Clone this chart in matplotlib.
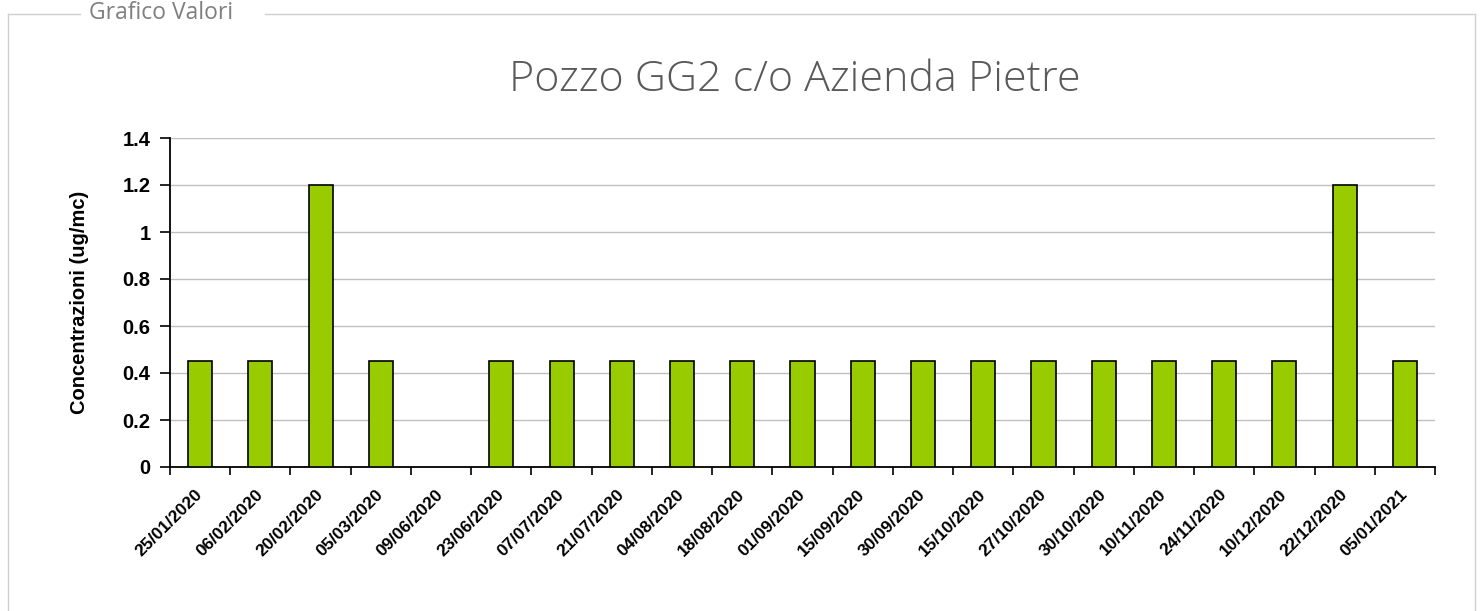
import matplotlib.pyplot as plt
import matplotlib.transforms as mtransforms
from matplotlib.lines import Line2D
import numpy as np

dates = ['25/01/2020', '06/02/2020', '20/02/2020', '05/03/2020', '09/06/2020',
         '23/06/2020', '07/07/2020', '21/07/2020', '04/08/2020', '18/08/2020',
         '01/09/2020', '15/09/2020', '30/09/2020', '15/10/2020', '27/10/2020',
         '30/10/2020', '10/11/2020', '24/11/2020', '10/12/2020', '22/12/2020',
         '05/01/2021']
values = [0.45, 0.45, 1.2, 0.45, np.nan,
          0.45, 0.45, 0.45, 0.45, 0.45,
          0.45, 0.45, 0.45, 0.45, 0.45,
          0.45, 0.45, 0.45, 0.45, 1.2,
          0.45]
y_ticks = [0, 0.2, 0.4, 0.6, 0.8, 1, 1.2, 1.4]
y_tick_labels = ['0', '0.2', '0.4', '0.6', '0.8', '1', '1.2', '1.4']

W, H = 1483, 611
fig = plt.figure(figsize=(W / 100, H / 100), dpi=100)

# fieldset-like frame
frame_col = '#cfcfcf'
fig.add_artist(Line2D([8 / W, 80 / W], [1 - 14 / H, 1 - 14 / H], color=frame_col, lw=1))
fig.add_artist(Line2D([265 / W, 1475 / W], [1 - 14 / H, 1 - 14 / H], color=frame_col, lw=1))
fig.add_artist(Line2D([8 / W, 8 / W], [1 - 14 / H, 0], color=frame_col, lw=1))
fig.add_artist(Line2D([1475 / W, 1475 / W], [1 - 14 / H, 0], color=frame_col, lw=1))
fig.text(89 / W, 1 - 13 / H, 'Grafico Valori', fontsize=16.5, color='#7f7f7f',
         family='Open Sans', va='center', ha='left')

fig.text(795 / W, 1 - 80 / H, 'Pozzo GG2 c/o Azienda Pietre', fontsize=31,
         color='#595959', family='Open Sans', fontweight='light',
         ha='center', va='center')

ax = fig.add_axes([170 / W, 1 - 467 / H, (1435 - 170) / W, (467 - 138) / H])
x = np.arange(len(dates))
ax.bar(x, values, width=0.4, color='#99cc00', edgecolor='black', linewidth=1.2, zorder=3)

ax.set_xlim(-0.5, len(dates) - 0.5)
ax.set_ylim(0, 1.4)
ax.set_yticks(y_ticks)
ax.set_yticklabels(y_tick_labels, fontweight='bold', fontsize=14.5, family='Liberation Sans')
ax.yaxis.grid(True, color='#c0c0c0', lw=1, zorder=0)
ax.set_axisbelow(True)

ax.set_xticks(np.arange(len(dates) + 1) - 0.5)
ax.set_xticklabels([])
ax.set_xticks(x, minor=True)
ax.set_xticklabels(dates, minor=True, rotation=45, ha='right', va='center',
                   rotation_mode='anchor', fontweight='bold', fontsize=12.5,
                   family='Liberation Sans')
shift = mtransforms.ScaledTranslation(-19 / 100, 0, fig.dpi_scale_trans)
for lab in ax.get_xticklabels(minor=True):
    lab.set_transform(lab.get_transform() + shift)
ax.tick_params(axis='x', which='minor', length=0, pad=18)
ax.tick_params(axis='x', which='major', length=6, width=1.2, direction='out')
ax.tick_params(axis='y', length=7, width=1.2, direction='out', pad=7)

for s in ['top', 'right']:
    ax.spines[s].set_visible(False)
for s in ['left', 'bottom']:
    ax.spines[s].set_linewidth(1.3)

ax.set_ylabel('Concentrazioni (ug/mc)', fontweight='bold', fontsize=14.5,
              family='Liberation Sans', labelpad=24)

fig.savefig('out.png', dpi=100)
